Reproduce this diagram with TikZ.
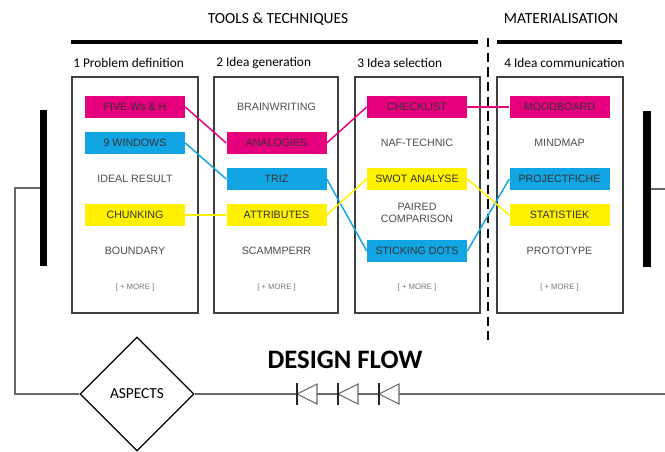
\documentclass[tikz,border=0pt]{standalone}
\usepackage{fontspec}
\setmainfont{Carlito}
\newfontfamily\itemfont{Liberation Sans}
\usetikzlibrary{shapes.geometric}
\definecolor{flowpink}{HTML}{E6007E}
\definecolor{flowcyan}{HTML}{12A5E3}
\definecolor{flowyellow}{HTML}{FFF100}
\tikzset{
	tool/.style={minimum width=75pt, minimum height=16pt, inner sep=0pt, text=black!80, font=\itemfont\fontsize{8}{9.5}\selectfont},
	plain/.style={tool, text=black!70},
	more/.style={inner sep=0pt, text=black!55, font=\itemfont\fontsize{5.8}{7}\selectfont},
	pinktool/.style={tool, fill=flowpink},
	cyantool/.style={tool, fill=flowcyan},
	yellowtool/.style={tool, fill=flowyellow},
	pinkline/.style={draw=flowpink, line width=1.1pt},
	cyanline/.style={draw=flowcyan, line width=1.1pt},
	yellowline/.style={draw=flowyellow, line width=1.1pt},
	column/.style={draw=black!75, line width=1.5pt},
	colhead/.style={anchor=west, inner sep=0pt, font=\fontsize{10}{12}\selectfont},
	header/.style={inner sep=0pt, font=\fontsize{11.6}{14}\selectfont},
	loopline/.style={draw=black!60, line width=1.4pt},
	sidebar/.style={fill=black, inner sep=0pt, minimum width=5.3pt, minimum height=117pt}
}
\def\diode(#1,#2){\draw[fill=white, draw=black!60, line width=0.8pt] (#1,#2) -- (#1+20,#2-10) -- (#1+20,#2+10) -- cycle;
	\draw[black!85, line width=1.8pt] (#1,#2-11) -- (#1,#2+11);}

\begin{document}
\begin{tikzpicture}[x=0.75pt, y=-0.75pt]
		%%%%% START %%%%%
		\useasboundingbox (0,0) rectangle (665,451);
		
		% headers
		\node[header] (tools) at (278,19) {TOOLS \& TECHNIQUES};
		\node[header] (materials) at (561,19) {MATERIALISATION};
		\draw[line width=2.8pt] (71,42) -- (478,42);
		\draw[line width=2.8pt] (497,42) -- (622,42);
		\draw[line width=1.2pt, dash pattern=on 7pt off 4pt] (488,38) -- (488,340);
		
		\node[colhead] (head1) at (73,63) {1 Problem definition};
		\node[colhead] (head2) at (216,63) {2 Idea generation};
		\node[colhead] (head3) at (357,63) {3 Idea selection};
		\node[colhead] (head4) at (504,63) {4 Idea communication};
		
		% columns
		\draw[column] (72,77) rectangle (198,313);
		\draw[column] (214,77) rectangle (338,313);
		\draw[column] (355,77) rectangle (480,313);
		\draw[column] (497,77) rectangle (623,313);
		
		% 1 problem definition
		\node[pinktool] (fiveW) at (135,107) {FIVE Ws \& H};
		\node[cyantool] (nineWin) at (135,143) {9 WINDOWS};
		\node[plain] (idealRes) at (135,179) {IDEAL RESULT};
		\node[yellowtool] (chunking) at (135,215) {CHUNKING};
		\node[plain] (boundary) at (135,251) {BOUNDARY};
		\node[more] (more1) at (135,287) {[ + MORE ]};
		
		% 2 idea generation
		\node[plain] (brainwr) at (276.5,107) {BRAINWRITING};
		\node[pinktool] (analogies) at (276.5,143) {ANALOGIES};
		\node[cyantool] (triz) at (276.5,179) {TRIZ};
		\node[yellowtool] (attributes) at (276.5,215) {ATTRIBUTES};
		\node[plain] (scamper) at (276.5,251) {SCAMMPERR};
		\node[more] (more2) at (276.5,287) {[ + MORE ]};
		
		% 3 idea selection
		\node[pinktool] (checklist) at (417,107) {CHECKLIST};
		\node[plain] (naf) at (417,143) {NAF-TECHNIC};
		\node[yellowtool] (swot) at (417,179) {SWOT ANALYSE};
		\node[plain, align=center] (paired) at (417,213) {PAIRED\\COMPARISON};
		\node[cyantool] (sticking) at (417,251) {STICKING DOTS};
		\node[more] (more3) at (417,287) {[ + MORE ]};
		
		% 4 idea communication
		\node[pinktool] (moodboard) at (559.5,107) {MOODBOARD};
		\node[plain] (mindmap) at (559.5,143) {MINDMAP};
		\node[cyantool] (projfiche) at (559.5,179) {PROJECTFICHE};
		\node[yellowtool] (statistiek) at (559.5,215) {STATISTIEK};
		\node[plain] (prototype) at (559.5,251) {PROTOTYPE};
		\node[more] (more4) at (559.5,287) {[ + MORE ]};
		
		% routes
		\draw[pinkline] (fiveW.east) -- (analogies.west);
		\draw[pinkline] (analogies.east) -- (checklist.west);
		\draw[pinkline] (checklist.east) -- (moodboard.west);
		\draw[cyanline] (nineWin.east) -- (triz.west);
		\draw[cyanline] (triz.east) -- (sticking.west);
		\draw[cyanline] (sticking.east) -- (projfiche.west);
		\draw[yellowline] (chunking.east) -- (attributes.west);
		\draw[yellowline] (attributes.east) -- (swot.west);
		\draw[yellowline] (swot.east) -- (statistiek.west);
		
		% design flow loop
		\node[sidebar] (leftbar) at (43.5,188) {};
		\node[sidebar] (rightbar) at (647,189) {};
		\node[draw, diamond, aspect=1, line width=0.9pt, minimum width=85.5pt, minimum height=85.5pt, inner sep=0pt, font=\fontsize{11.5}{14}\selectfont] (aspects) at (137,394) {ASPECTS};
		\coordinate (lcorner) at (15,394);
		\coordinate (rexit) at (665,189);
		\coordinate (flowend) at (665,394);
		\draw[loopline] (leftbar.west) -| (lcorner) -- (aspects.west);
		\draw[loopline] (rightbar.east) -- (rexit);
		\draw[loopline] (aspects.east) -- (flowend);
		\node[font=\bfseries\fontsize{20}{24}\selectfont, inner sep=0pt] (flow) at (345,360) {DESIGN FLOW};
		\diode(297,394)
		\diode(338,394)
		\diode(379,394)
		%%%%% END %%%%%
	\end{tikzpicture}
\end{document}
